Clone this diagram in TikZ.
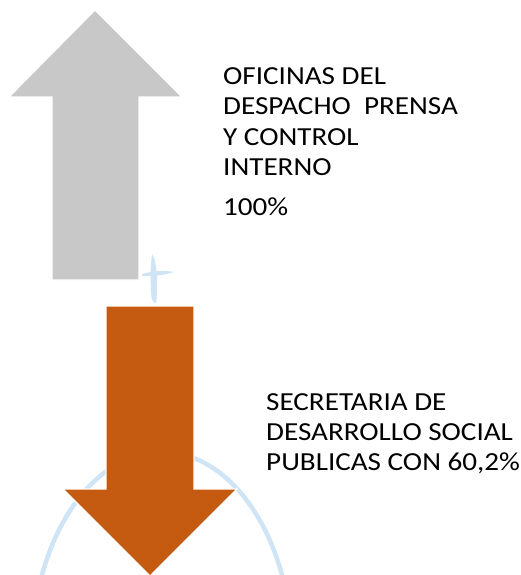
\documentclass[tikz,border=0pt]{standalone}
\usepackage{fontspec}
\setmainfont{Carlito}
\newfontfamily\labelfont[FakeStretch=1.12]{Carlito}
\definecolor{arrowgray}{RGB}{200,200,200}
\definecolor{arroworange}{RGB}{197,90,17}
\definecolor{faintblue}{RGB}{207,228,244}
\tikzset{
  bigarrow/.style={draw=white, line width=1.2pt, line join=miter},
  label/.style={anchor=base west, inner sep=0pt, font=\labelfont\fontsize{26}{30}\selectfont},
  faint/.style={draw=faintblue, line width=4.5pt}
}
\begin{document}
\begin{tikzpicture}[x=1pt,y=-1pt]
\useasboundingbox (0,0) rectangle (521,575);
\begin{scope}
\clip (0,0) rectangle (521,575);
\draw[faint] (162,652) ellipse [x radius=130, y radius=200];
\end{scope}
% faint cross strokes
\fill[faintblue] (152,254) .. controls (158,262) and (158,290) .. (156,303)
  .. controls (153,303) and (151,300) .. (151,290)
  .. controls (150,275) and (151,262) .. (152,254) -- cycle;
\fill[faintblue] (142,274) .. controls (152,271) and (165,270) .. (174,272)
  .. controls (165,275) and (152,277) .. (142,276) -- cycle;
% gray up arrow
\fill[arrowgray, bigarrow] (95,10) -- (182,97) -- (139,97) -- (139,280) -- (52,280) -- (52,97) -- (9,97) -- cycle;
% orange down arrow
\fill[arroworange, bigarrow] (106,306) -- (194,306) -- (194,489) -- (237,489) -- (150,576) -- (63,489) -- (106,489) -- cycle;
\node[label] (t1) at (223,85) {\vtop{\baselineskip=30pt\hbox{OFICINAS DEL}\hbox{DESPACHO\ \ PRENSA}\hbox{Y CONTROL}\hbox{INTERNO}}};
\node[label] (t2) at (223,215) {100\%};
\node[label] (t3) at (266,410) {\vtop{\baselineskip=30pt\hbox{SECRETARIA DE}\hbox{DESARROLLO SOCIAL}\hbox{PUBLICAS CON 60,2\%}}};
\end{tikzpicture}
\end{document}
